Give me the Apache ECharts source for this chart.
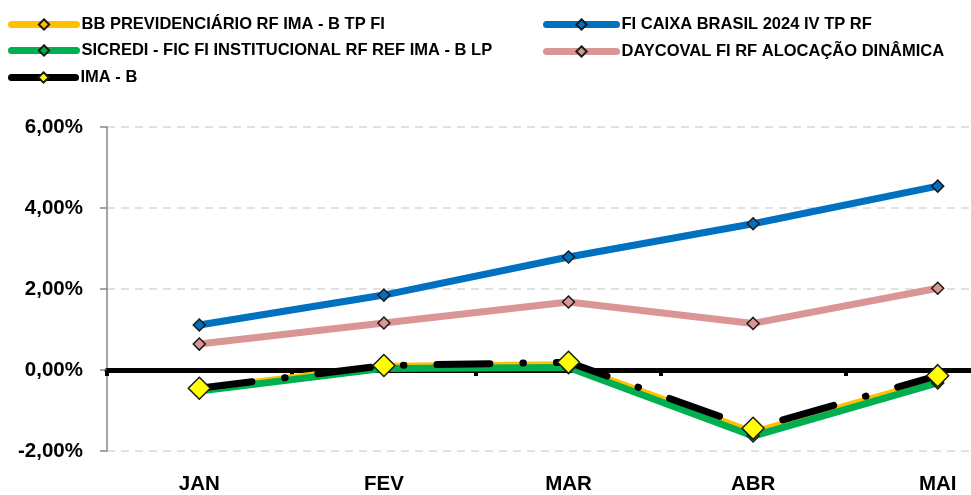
<!DOCTYPE html>
<html>
<head>
<meta charset="utf-8">
<script src="https://cdn.jsdelivr.net/npm/echarts@6/dist/echarts.min.js"></script>
<style>
  html, body { margin: 0; padding: 0; background: #fff; }
  #chart { width: 971px; height: 495px; }
</style>
</head>
<body>
<div id="chart"></div>
<script>
  var months = ['JAN', 'FEV', 'MAR', 'ABR', 'MAI'];
  var bbPrev = [-0.47, 0.09, 0.13, -1.54, -0.24];
  var caixa2024 = [1.11, 1.85, 2.79, 3.61, 4.54];
  var sicredi = [-0.52, 0.04, 0.06, -1.63, -0.32];
  var daycoval = [0.64, 1.16, 1.68, 1.15, 2.02];
  var imaB = [-0.45, 0.11, 0.19, -1.44, -0.14];
  var yTicks = [-2, 0, 2, 4, 6];

  var font = 'Liberation Sans, Arial, sans-serif';

  function lineSeries(name, data, color, fill, size, dash) {
    return {
      name: name,
      type: 'line',
      data: data,
      symbol: 'diamond',
      symbolSize: size,
      lineStyle: {color: color, width: 7, type: dash || 'solid', cap: 'round', join: 'round'},
      itemStyle: {color: fill, borderColor: '#1a1a1a', borderWidth: 1.5},
      emphasis: {disabled: true}
    };
  }

  function legendItem(name, left, top, w) {
    return {
      data: [name],
      left: left,
      top: top,
      padding: 0,
      itemWidth: w,
      itemHeight: 13,
      selectedMode: false,
      lineStyle: {width: 7, type: 'solid', cap: 'round'},
      textStyle: {fontFamily: font, fontWeight: 'bold', fontSize: 16.5, color: '#000'}
    };
  }

  var chart = echarts.init(document.getElementById('chart'));
  var option = {
    animation: false,
    legend: [
      legendItem('BB PREVIDENCIÁRIO RF IMA - B TP FI', 8, 16, 65),
      legendItem('FI CAIXA BRASIL 2024 IV TP RF', 543, 16, 70),
      legendItem('SICREDI - FIC FI INSTITUCIONAL RF REF IMA - B LP', 8, 42, 65),
      legendItem('DAYCOVAL FI RF ALOCAÇÃO DINÂMICA', 543, 43, 70),
      legendItem('IMA - B', 8, 69, 64)
    ],
    grid: {left: 107, top: 127, width: 923, height: 324, outerBoundsMode: 'none', containLabel: false},
    xAxis: [
      {
        type: 'category',
        data: months,
        boundaryGap: true,
        axisLine: {onZero: true, lineStyle: {color: '#000', width: 5}},
        axisTick: {show: true, length: 6, lineStyle: {color: '#000', width: 4}},
        axisLabel: {show: false},
        splitLine: {show: false}
      },
      {
        type: 'category',
        data: months,
        position: 'bottom',
        boundaryGap: true,
        axisLine: {show: false, onZero: false},
        axisTick: {show: false},
        axisLabel: {margin: 23, fontFamily: font, fontWeight: 'bold', fontSize: 20.5, color: '#000'},
        splitLine: {show: false}
      }
    ],
    yAxis: {
      type: 'value',
      min: yTicks[0],
      max: yTicks[yTicks.length - 1],
      interval: 2,
      axisLine: {show: true, lineStyle: {color: '#868686', width: 1.5}},
      axisTick: {show: true, length: 7, lineStyle: {color: '#868686', width: 1.5}},
      splitLine: {show: true, lineStyle: {color: '#d9d9d9', width: 1.5, type: [8, 6]}},
      axisLabel: {
        margin: 24,
        fontFamily: font,
        fontWeight: 'bold',
        fontSize: 20.5,
        color: '#000',
        formatter: function (v) { return v.toFixed(2).replace('.', ',') + '%'; }
      }
    },
    series: [
      lineSeries('BB PREVIDENCIÁRIO RF IMA - B TP FI', bbPrev, '#FFC000', '#FFC000', 12),
      lineSeries('FI CAIXA BRASIL 2024 IV TP RF', caixa2024, '#0070C0', '#0070C0', 12),
      lineSeries('SICREDI - FIC FI INSTITUCIONAL RF REF IMA - B LP', sicredi, '#00B050', '#00B050', 12),
      lineSeries('DAYCOVAL FI RF ALOCAÇÃO DINÂMICA', daycoval, '#D99694', '#D99694', 12),
      lineSeries('IMA - B', imaB, '#000000', '#FFFF00', 22, [53, 33, 0.5, 33])
    ]
  };
  chart.setOption(option);
</script>
</body>
</html>
